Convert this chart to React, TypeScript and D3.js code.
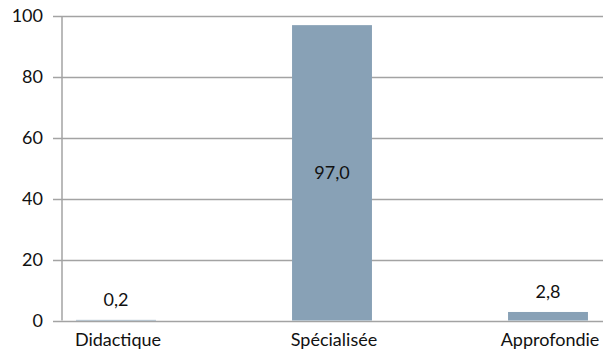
import React from "react";
import * as d3 from "d3";

// Share of each type of content, in percent
const categories: string[] = ["Didactique", "Spécialisée", "Approfondie"];
const values: number[] = [0.2, 97.0, 2.8];
const yTicks: number[] = [0, 20, 40, 60, 80, 100];

const W = 603;
const H = 350;
const FONT = "Lato, 'Noto Sans', sans-serif";

export default function App() {
  const y = d3.scaleLinear().domain([0, 100]).range([320.5, 16]);
  const x = d3
    .scaleBand<string>()
    .domain(categories)
    .range([8, 656])
    .paddingInner(0.63)
    .paddingOuter(0.315);

  const axisX = 62;
  const gridLeft = 53;
  const fmt = (v: number) => v.toFixed(1).replace(".", ",");

  return (
    <svg
      width={W}
      height={H}
      style={{ position: "absolute", left: 0, top: 0, background: "#fff" }}
      fontFamily={FONT}
    >
      {/* horizontal gridlines */}
      {yTicks.map((t) => (
        <line
          key={`g${t}`}
          x1={gridLeft}
          x2={W}
          y1={Math.round(y(t)) + 0.5}
          y2={Math.round(y(t)) + 0.5}
          stroke="#a3a3a3"
          strokeWidth={1.5}
        />
      ))}
      {/* vertical axis */}
      <line
        x1={axisX}
        x2={axisX}
        y1={y(100)}
        y2={y(0)}
        stroke="#a3a3a3"
        strokeWidth={1.5}
      />
      {/* tick labels */}
      {yTicks.map((t) => (
        <text
          key={`t${t}`}
          x={43}
          y={y(t)}
          dy="0.35em"
          textAnchor="end"
          fontSize={18}
          fill="#111"
        >
          {t}
        </text>
      ))}
      {/* bars */}
      {categories.map((c, i) => (
        <rect
          key={c}
          x={x(c)}
          y={y(values[i])}
          width={x.bandwidth()}
          height={y(0) - y(values[i])}
          fill="#88a1b6"
        />
      ))}
      {/* value labels */}
      {categories.map((c, i) => {
        const cx = (x(c) as number) + x.bandwidth() / 2;
        const inside = values[i] > 50;
        const ly = inside ? (y(values[i]) + y(0)) / 2 : y(values[i]) - 14;
        return (
          <text
            key={`v${c}`}
            x={cx}
            y={ly}
            dy={inside ? "0.35em" : 0}
            textAnchor="middle"
            fontSize={18}
            fill="#111"
          >
            {fmt(values[i])}
          </text>
        );
      })}
      {/* category labels */}
      {categories.map((c) => (
        <text
          key={`c${c}`}
          x={(x(c) as number) + x.bandwidth() / 2 + 2}
          y={345.5}
          textAnchor="middle"
          fontSize={18}
          fill="#111"
        >
          {c}
        </text>
      ))}
    </svg>
  );
}
